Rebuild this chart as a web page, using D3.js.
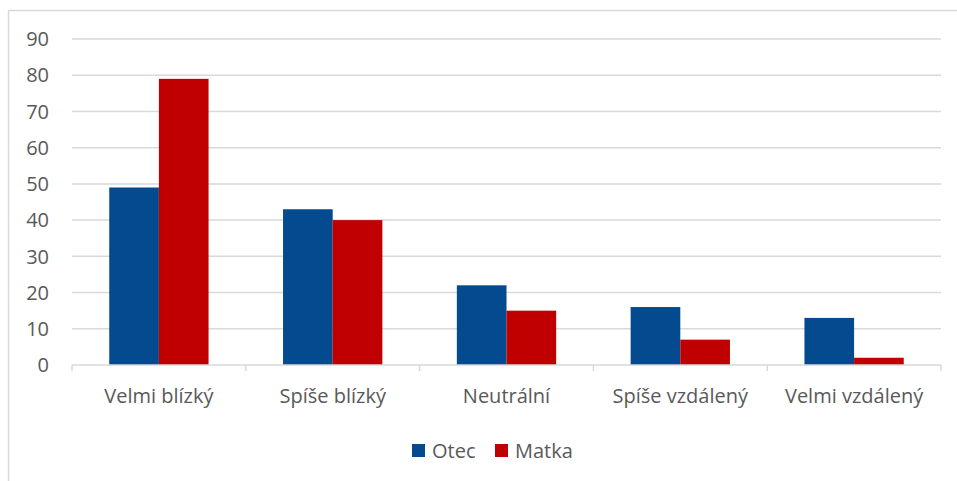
<!DOCTYPE html>
<html>
<head>
<meta charset="utf-8">
<script src="https://cdn.jsdelivr.net/npm/d3@7"></script>
<style>
  body { margin: 0; background: #fff; }
  svg text { font-family: "Open Sans", Lato, sans-serif; fill: #595959; }
</style>
</head>
<body>
<script>
const categories = ['Velmi blízký', 'Spíše blízký', 'Neutrální', 'Spíše vzdálený', 'Velmi vzdálený'];
const seriesNames = ['Otec', 'Matka'];
const otec = [49, 43, 22, 16, 13];
const matka = [79, 40, 15, 7, 2];
const yTicks = [0, 10, 20, 30, 40, 50, 60, 70, 80, 90];
const colors = ['#034A8E', '#C00000'];

const W = 957, H = 481;
const m = { left: 72, right: 16, top: 39, bottom: 116 };
const fontSize = '20px';

const svg = d3.select('body').append('svg')
    .attr('width', W).attr('height', H);

// chart border
svg.append('rect')
    .attr('x', 8.5).attr('y', 10.5)
    .attr('width', W + 10).attr('height', H + 10)
    .attr('fill', 'none').attr('stroke', '#d9d9d9').attr('stroke-width', 1.5);

const x = d3.scaleBand()
    .domain(categories)
    .range([m.left, W - m.right])
    .paddingInner(0).paddingOuter(0);

// gap width ~150%
const x1 = d3.scaleBand()
    .domain(seriesNames)
    .range([0, x.bandwidth()])
    .paddingInner(0).paddingOuter(0.75);

const y = d3.scaleLinear().domain([0, 90]).range([H - m.bottom, m.top]);

// gridlines
svg.append('g').selectAll('line')
    .data(yTicks.slice(1))
    .join('line')
    .attr('x1', m.left).attr('x2', W - m.right)
    .attr('y1', d => y(d)).attr('y2', d => y(d))
    .attr('stroke', '#d9d9d9').attr('stroke-width', 1.5);

// y labels
svg.append('g').selectAll('text')
    .data(yTicks)
    .join('text')
    .attr('x', 49).attr('y', d => y(d))
    .attr('dy', '0.36em')
    .attr('text-anchor', 'end')
    .style('font-size', fontSize)
    .text(d => d);

// bars
const data = categories.map((c, i) => ({ cat: c, vals: [otec[i], matka[i]] }));
const groups = svg.append('g').selectAll('g')
    .data(data)
    .join('g')
    .attr('transform', d => `translate(${x(d.cat)},0)`);

groups.selectAll('rect')
    .data(d => d.vals.map((v, j) => ({ s: seriesNames[j], v, j })))
    .join('rect')
    .attr('x', d => x1(d.s))
    .attr('width', x1.bandwidth())
    .attr('y', d => y(d.v))
    .attr('height', d => y(0) - y(d.v))
    .attr('fill', d => colors[d.j]);

// x axis
const xAxis = svg.append('g').attr('transform', `translate(0,${y(0)})`);
xAxis.append('line')
    .attr('x1', m.left).attr('x2', W - m.right)
    .attr('stroke', '#d9d9d9').attr('stroke-width', 1.5);
const bounds = categories.map(c => x(c)).concat([x(categories[categories.length - 1]) + x.bandwidth()]);
xAxis.selectAll('line.tick')
    .data(bounds)
    .join('line')
    .attr('class', 'tick')
    .attr('x1', d => d).attr('x2', d => d)
    .attr('y1', 0).attr('y2', 6)
    .attr('stroke', '#d9d9d9').attr('stroke-width', 1.5);
xAxis.selectAll('text')
    .data(categories)
    .join('text')
    .attr('x', d => x(d) + x.bandwidth() / 2)
    .attr('y', 31)
    .attr('dy', '0.36em')
    .attr('text-anchor', 'middle')
    .style('font-size', fontSize)
    .text(d => d);

// legend
const legend = svg.append('g').attr('transform', 'translate(412,451)');
const legendX = [0, 83];
const li = legend.selectAll('g')
    .data(seriesNames)
    .join('g')
    .attr('transform', (d, i) => `translate(${legendX[i]},0)`);
li.append('rect')
    .attr('x', 0).attr('y', -7)
    .attr('width', 13).attr('height', 13)
    .attr('fill', (d, i) => colors[i]);
li.append('text')
    .attr('x', 20).attr('y', 0)
    .attr('dy', '0.36em')
    .style('font-size', fontSize)
    .text(d => d);
</script>
</body>
</html>
